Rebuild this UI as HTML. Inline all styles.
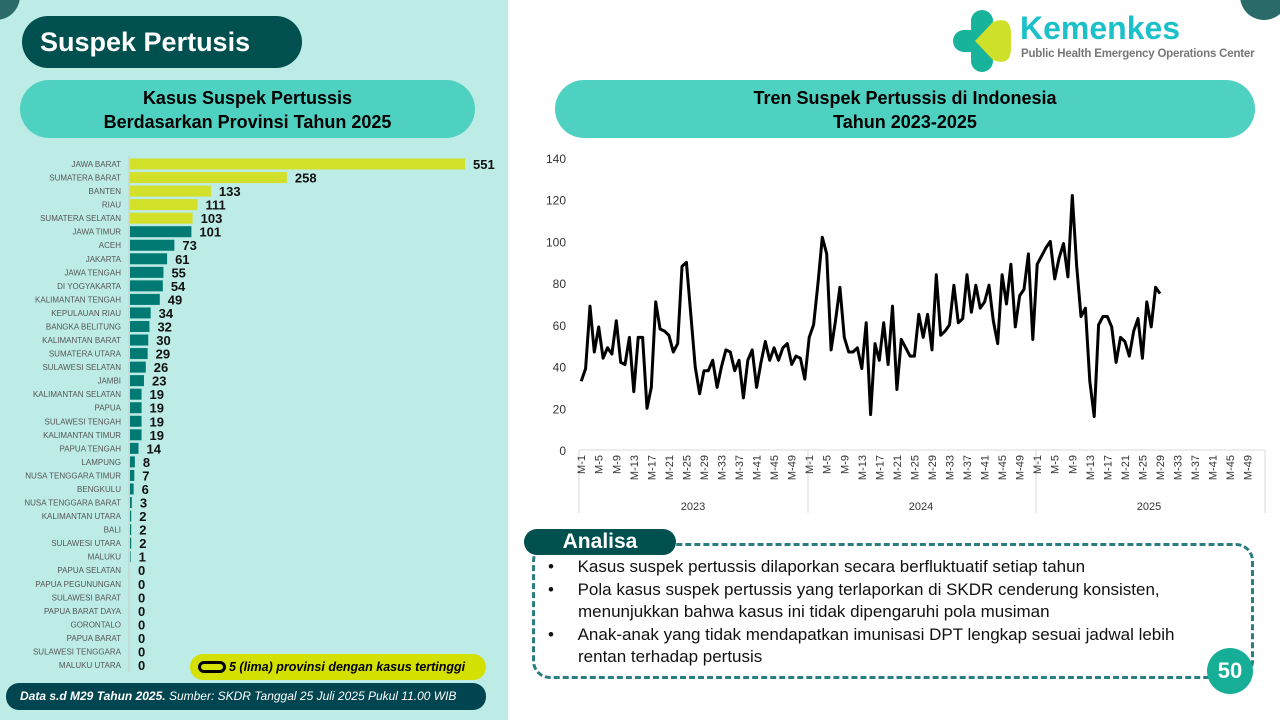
<!DOCTYPE html>
<html><head><meta charset="utf-8"><style>
*{margin:0;padding:0;box-sizing:border-box}
body{width:1280px;height:720px;position:relative;overflow:hidden;background:#fff;font-family:"Liberation Sans",sans-serif}
.left{position:absolute;left:0;top:0;width:508px;height:720px;background:#bdece6}
.title{position:absolute;left:22px;top:16px;width:280px;height:52px;border-radius:26px;background:#00504f;color:#fff;font-weight:bold;font-size:27px;line-height:52px;padding-left:18px}
.pill{position:absolute;background:#4fd1c2;border-radius:30px;color:#000;font-weight:bold;font-size:18px;text-align:center;line-height:24px;white-space:nowrap}
svg{position:absolute;left:0;top:0}
</style></head><body>
<div class="left"></div>
<div class="title">Suspek Pertusis</div>
<div class="pill" style="left:20px;top:80px;width:455px;height:58px;padding-top:6px">Kasus Suspek Pertussis<br>Berdasarkan Provinsi Tahun 2025</div>
<div class="pill" style="left:555px;top:80px;width:700px;height:58px;padding-top:6px">Tren Suspek Pertussis di Indonesia<br>Tahun 2023-2025</div>
<svg id="s" width="1280" height="720" xmlns="http://www.w3.org/2000/svg"></svg>
<div style="position:absolute;left:1240px;top:-28px;width:48px;height:48px;border-radius:50%;background:#2a6b6a"></div>
<div style="position:absolute;left:-28px;top:-28px;width:48px;height:48px;border-radius:50%;background:#2a6b6a"></div>
<div style="position:absolute;left:1020px;top:10px;font-size:32px;font-weight:bold;color:#1cc0c8;white-space:nowrap">Kemenkes</div>
<div style="position:absolute;left:1021px;top:48px;font-size:11.5px;font-weight:bold;color:#777;white-space:nowrap;letter-spacing:-0.2px">Public Health Emergency Operations Center</div>
<div style="position:absolute;left:190px;top:654px;width:296px;height:26px;border-radius:13px;background:#d4e000;font-size:12.5px;font-style:italic;font-weight:bold;line-height:26px;padding-left:8px;white-space:nowrap"><span style="display:inline-block;width:28px;height:12px;border:3px solid #000;border-radius:7px;vertical-align:-2px;margin-right:3px"></span>5 (lima) provinsi dengan kasus tertinggi</div>
<div style="position:absolute;left:6px;top:683px;width:480px;height:27px;border-radius:13px;background:#00454f;color:#fff;font-size:12px;font-style:italic;line-height:27px;padding-left:14px;white-space:nowrap"><b>Data s.d M29 Tahun 2025.</b> Sumber: SKDR Tanggal 25 Juli 2025 Pukul 11.00 WIB</div>
<div style="position:absolute;left:532px;top:543px;width:722px;height:136px;border:3px dashed #2a7d80;border-radius:18px"></div>
<div style="position:absolute;left:524px;top:529px;width:152px;height:26px;border-radius:13px;background:#00504f;color:#fff;font-weight:bold;font-size:21px;line-height:26px;text-align:center">Analisa</div>
<div style="position:absolute;left:548px;top:556px;width:680px;font-size:17px;line-height:22.5px;color:#111">
<div style="padding-left:30px;text-indent:-30px">•&nbsp;&nbsp;&nbsp;&nbsp;&nbsp;Kasus suspek pertussis dilaporkan secara berfluktuatif setiap tahun</div>
<div style="padding-left:30px;text-indent:-30px">•&nbsp;&nbsp;&nbsp;&nbsp;&nbsp;Pola kasus suspek pertussis yang terlaporkan di SKDR cenderung konsisten, menunjukkan bahwa kasus ini tidak dipengaruhi pola musiman</div>
<div style="padding-left:30px;text-indent:-30px">•&nbsp;&nbsp;&nbsp;&nbsp;&nbsp;Anak-anak yang tidak mendapatkan imunisasi DPT lengkap sesuai jadwal lebih<br>rentan terhadap pertusis</div>
</div>
<div style="position:absolute;left:1207px;top:648px;width:46px;height:46px;border-radius:50%;background:#17ae97;color:#fff;font-weight:bold;font-size:22px;line-height:46px;text-align:center">50</div>
<script>
var s=document.getElementById('s'),h='';
h+='<g transform="translate(953,10)"><rect x="0" y="20" width="28" height="22" rx="11" fill="#17b39a"/><rect x="18" y="0" width="22" height="62" rx="11" fill="#17b39a"/><path d="M22 31 L40 12 Q58 5 58 24 L58 38 Q58 57 40 50 Z" fill="#cfe02a"/></g>';
var P=[["JAWA BARAT",551],["SUMATERA BARAT",258],["BANTEN",133],["RIAU",111],["SUMATERA SELATAN",103],["JAWA TIMUR",101],["ACEH",73],["JAKARTA",61],["JAWA TENGAH",55],["DI YOGYAKARTA",54],["KALIMANTAN TENGAH",49],["KEPULAUAN RIAU",34],["BANGKA BELITUNG",32],["KALIMANTAN BARAT",30],["SUMATERA UTARA",29],["SULAWESI SELATAN",26],["JAMBI",23],["KALIMANTAN SELATAN",19],["PAPUA",19],["SULAWESI TENGAH",19],["KALIMANTAN TIMUR",19],["PAPUA TENGAH",14],["LAMPUNG",8],["NUSA TENGGARA TIMUR",7],["BENGKULU",6],["NUSA TENGGARA BARAT",3],["KALIMANTAN UTARA",2],["BALI",2],["SULAWESI UTARA",2],["MALUKU",1],["PAPUA SELATAN",0],["PAPUA PEGUNUNGAN",0],["SULAWESI BARAT",0],["PAPUA BARAT DAYA",0],["GORONTALO",0],["PAPUA BARAT",0],["SULAWESI TENGGARA",0],["MALUKU UTARA",0]];
var st=(665-164)/37;
h+='<line x1="129" y1="156" x2="129" y2="672" stroke="#ccc"/>';
P.forEach(function(p,i){var y=164+i*st,w=p[1]*0.608;
h+='<text x="121" y="'+(y+3)+'" font-size="8" fill="#555" text-anchor="end">'+p[0]+'</text>';
if(w>0)h+='<rect x="130" y="'+(y-5.5)+'" width="'+w+'" height="11" fill="'+(i<5?'#d2e02a':'#007a72')+'"/>';
h+='<text x="'+(138+w)+'" y="'+(y+5)+'" font-size="13" font-weight="bold" fill="#111">'+p[1]+'</text>';});
for(var v=0;v<=140;v+=20){var y=450-v*2.086;h+='<text x="566" y="'+(y+5)+'" font-size="12" fill="#333" text-anchor="end">'+v+'</text>';}
h+='<line x1="579" y1="450" x2="1265" y2="450" stroke="#d8d8d8"/>';
[579,808,1036,1265].forEach(function(x){h+='<line x1="'+x+'" y1="450" x2="'+x+'" y2="513" stroke="#d8d8d8"/>';});
var dx=228/52;
for(var yr=0;yr<3;yr++){for(var k=1;k<=49;k+=4){var x=579+yr*228+(k-0.5)*dx;h+='<text transform="translate('+(x+4)+',455) rotate(-90)" font-size="11" fill="#333" text-anchor="end">M-'+k+'</text>';}
h+='<text x="'+(579+yr*228+114)+'" y="510" font-size="11" fill="#333" text-anchor="middle">'+(2023+yr)+'</text>';}
var D=[33,39,69,47,59,44,49,46,62,42,41,54,28,54,54,20,30,71,58,57,55,47,51,88,90,65,40,27,38,38,43,30,40,48,47,38,43,25,43,48,30,42,52,43,49,43,49,51,41,45,44,34,
54,60,80,102,94,48,62,78,54,47,47,49,39,61,17,51,43,61,41,69,29,53,49,45,45,65,54,65,48,84,55,57,60,79,61,63,84,66,79,68,71,79,62,51,84,70,89,59,74,77,94,53,
89,93,97,100,82,92,99,83,122,88,64,68,33,16,60,64,64,59,42,54,52,45,57,63,44,71,59,78,75];
var pts=D.map(function(v,i){return (579+(i+0.5)*dx).toFixed(1)+','+(450-v*2.086).toFixed(1)}).join(' ');
h+='<polyline points="'+pts+'" fill="none" stroke="#000" stroke-width="3" stroke-linejoin="round"/>';
s.innerHTML=h;
</script>
</body></html>
